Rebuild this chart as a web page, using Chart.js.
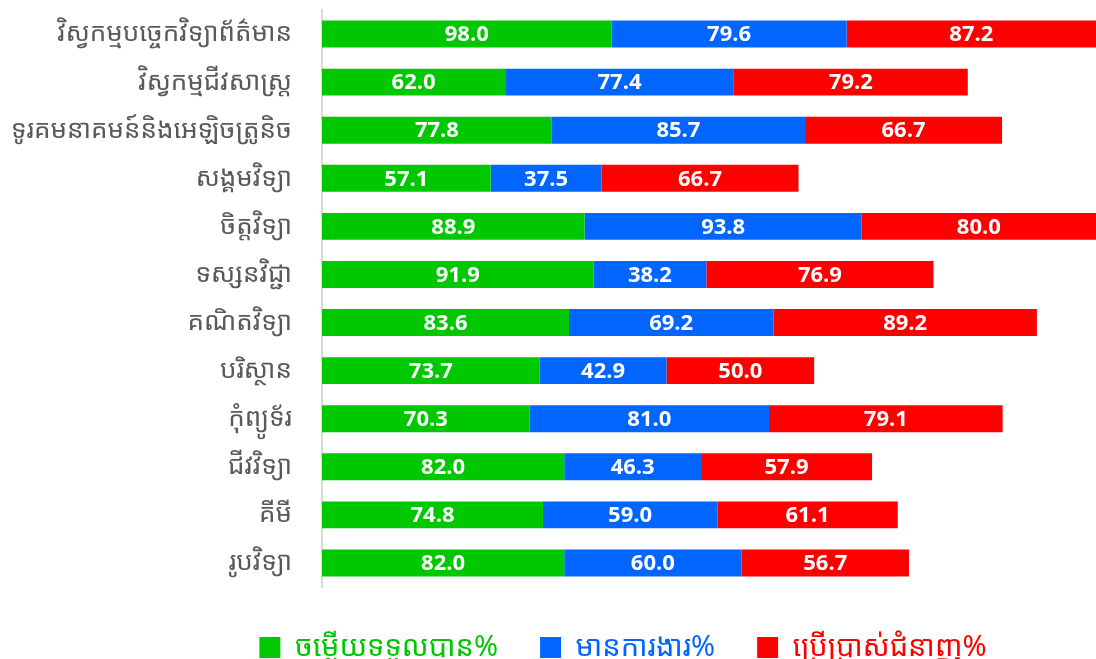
<!DOCTYPE html>
<html>
<head>
<meta charset="utf-8">
<script src="https://cdn.jsdelivr.net/npm/chart.js@4"></script>
<style>
  html, body { margin: 0; padding: 0; background: #fff; }
  #wrap { width: 1096px; height: 659px; }
</style>
</head>
<body>
<div id="wrap"><canvas id="chart"></canvas></div>
<script>
var categories = ['វិស្វកម្មបច្ចេកវិទ្យាព័ត៌មាន', 'វិស្វកម្មជីវសាស្ត្រ', 'ទូរគមនាគមន៍និងអេឡិចត្រូនិច', 'សង្គមវិទ្យា',
  'ចិត្តវិទ្យា', 'ទស្សនវិជ្ជា', 'គណិតវិទ្យា', 'បរិស្ថាន', 'កុំព្យូទ័រ', 'ជីវវិទ្យា', 'គីមី', 'រូបវិទ្យា'];
var seriesNames = ['ចម្លើយទទួលបាន%', 'មានការងារ%', 'ប្រើប្រាស់ជំនាញ%'];
var answered = [98.0, 62.0, 77.8, 57.1, 88.9, 91.9, 83.6, 73.7, 70.3, 82.0, 74.8, 82.0];
var employed = [79.6, 77.4, 85.7, 37.5, 93.8, 38.2, 69.2, 42.9, 81.0, 46.3, 59.0, 60.0];
var usingSkill = [87.2, 79.2, 66.7, 66.7, 80.0, 76.9, 89.2, 50.0, 79.1, 57.9, 61.1, 56.7];
var colors = ['#00C800', '#0066FF', '#FF0000'];

var khmerFont = '"Khmer OS", "Noto Sans Khmer", "Khmer OS System", "Noto Sans", sans-serif';

// rótulos brancos no centro de cada segmento
var barLabels = {
  id: 'barLabels',
  afterLayout: function (chart) {
    // legenda centrada sob a faixa 150..1096 e um pouco mais abaixo, como no original
    if (chart.legend) {
      chart.legend.left = 150;
      chart.legend.top += 4;
      chart.legend.bottom += 4;
    }
  },
  afterDatasetsDraw: function (chart) {
    var ctx = chart.ctx;
    ctx.save();
    ctx.font = 'bold 22px "Open Sans", "Noto Sans", sans-serif';
    ctx.fillStyle = '#ffffff';
    ctx.textAlign = 'center';
    ctx.textBaseline = 'middle';
    var area = chart.chartArea;
    chart.data.datasets.forEach(function (ds, i) {
      chart.getDatasetMeta(i).data.forEach(function (bar, j) {
        var p = bar.getProps(['x', 'y', 'base'], true);
        var right = Math.min(p.x, area.right);
        var cx = (p.base + right) / 2;
        ctx.fillText(ds.data[j].toFixed(1), cx, p.y + 1);
      });
    });
    ctx.restore();
  }
};

var ctx = document.getElementById('chart').getContext('2d');
new Chart(ctx, {
  type: 'bar',
  data: {
    labels: categories,
    datasets: [
      { label: seriesNames[0], data: answered, backgroundColor: colors[0] },
      { label: seriesNames[1], data: employed, backgroundColor: colors[1] },
      { label: seriesNames[2], data: usingSkill, backgroundColor: colors[2] }
    ]
  },
  options: {
    indexAxis: 'y',
    responsive: true,
    maintainAspectRatio: false,
    animation: false,
    layout: { padding: { top: 10, right: 0, left: 0, bottom: -9 } },
    datasets: { bar: { categoryPercentage: 0.56, barPercentage: 1.0 } },
    scales: {
      x: {
        stacked: true,
        min: 0,
        max: 262,
        display: false
      },
      y: {
        stacked: true,
        grid: { display: false, drawTicks: false },
        border: { display: true, color: '#D9D9D9', width: 2 },
        ticks: {
          color: '#595959',
          padding: 30,
          font: { family: khmerFont, size: 26, lineHeight: 0.8 }
        },
        afterFit: function (scale) {
          scale.width = 322;
          scale.paddingTop = 0;
          scale.paddingBottom = 0;
        }
      }
    },
    plugins: {
      tooltip: { enabled: false },
      legend: {
        position: 'bottom',
        labels: {
          boxWidth: 21,
          boxHeight: 21,
          padding: 42,
          font: { family: khmerFont, size: 29, lineHeight: 1 },
          generateLabels: function (chart) {
            return chart.data.datasets.map(function (ds, i) {
              return {
                text: ds.label,
                fillStyle: ds.backgroundColor,
                strokeStyle: ds.backgroundColor,
                lineWidth: 0,
                fontColor: ds.backgroundColor,
                datasetIndex: i
              };
            });
          }
        }
      }
    }
  },
  plugins: [barLabels]
});
</script>
</body>
</html>
